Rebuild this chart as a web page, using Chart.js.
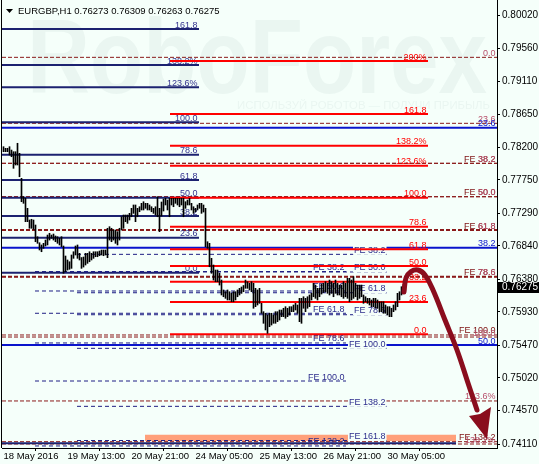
<!DOCTYPE html>
<html><head><meta charset="utf-8">
<script src="https://cdn.jsdelivr.net/npm/chart.js@4/dist/chart.umd.min.js"></script>
<style>html,body{margin:0;padding:0;background:#F5FFFA;}canvas{display:block;}</style>
</head><body>
<canvas id="c" width="539" height="464"></canvas>
<script>
// ---------------- data ----------------
const symbol = 'EURGBP,H1';
const lastQuote = [0.76273, 0.76309, 0.76263, 0.76275]; // O H L C of last bar
const xTickIndex = [0, 32, 64, 96, 128, 160, 192];
const xTickLabels = ['18 May 2016','19 May 13:00','20 May 21:00','24 May 05:00','25 May 13:00','26 May 21:00','30 May 05:00'];
const yTickValues = [0.80020,0.79560,0.79110,0.78650,0.78200,0.77750,0.77290,0.76840,0.76380,0.75930,0.75470,0.75020,0.74570,0.74110];

const barHigh = [
0.78206,0.78184,0.78184,0.78206,0.78160,0.78137,0.78137,0.78253,0.78115,0.77770,
0.77517,0.77495,0.77357,0.77196,0.77206,0.77196,0.77127,0.76966,0.76883,0.76852,
0.76875,0.76920,0.76989,0.77013,0.76989,0.77003,0.76976,0.76966,0.76944,0.76966,
0.76838,0.76700,0.76645,0.76621,0.76714,0.76759,0.76838,0.76852,0.76737,0.76679,
0.76686,0.76737,0.76737,0.76759,0.76737,0.76759,0.76759,0.76759,0.76769,0.76783,
0.76783,0.76783,0.77082,0.77104,0.77082,0.77058,0.77058,0.77035,0.77082,0.77241,
0.77265,0.77265,0.77265,0.77288,0.77357,0.77403,0.77403,0.77357,0.77379,0.77426,
0.77448,0.77426,0.77426,0.77403,0.77379,0.77357,0.77379,0.77517,0.77357,0.77444,
0.77485,0.77495,0.77471,0.77495,0.77495,0.77495,0.77495,0.77495,0.77495,0.77495,
0.77495,0.77448,0.77471,0.77495,0.77426,0.77379,0.77357,0.77403,0.77426,0.77426,
0.77403,0.77357,0.76897,0.76875,0.76668,0.76576,0.76507,0.76507,0.76462,0.76369,
0.76232,0.76208,0.76232,0.76208,0.76186,0.76208,0.76208,0.76232,0.76255,0.76273,
0.76294,0.76369,0.76346,0.76324,0.76346,0.76324,0.76255,0.76232,0.76255,0.76048,
0.75933,0.75911,0.75887,0.75911,0.75911,0.75887,0.75933,0.75933,0.75956,0.75956,
0.75980,0.76002,0.75980,0.76002,0.76002,0.76025,0.76048,0.76025,0.76117,0.76117,
0.76139,0.76117,0.76139,0.76163,0.76186,0.76324,0.76300,0.76255,0.76255,0.76314,
0.76324,0.76346,0.76324,0.76369,0.76346,0.76324,0.76369,0.76324,0.76300,0.76300,
0.76346,0.76324,0.76393,0.76393,0.76369,0.76415,0.76324,0.76300,0.76300,0.76300,
0.76163,0.76139,0.76117,0.76117,0.76094,0.76117,0.76117,0.76094,0.76070,0.76070,
0.76070,0.76025,0.76002,0.76002,0.75980,0.76025,0.76070,0.76186,0.76208,0.76277,
0.76309];
const barLow = [
0.78137,0.78137,0.78137,0.78091,0.78068,0.77908,0.77954,0.77954,0.77792,0.77448,
0.77426,0.77173,0.77173,0.77082,0.77082,0.77068,0.76897,0.76875,0.76783,0.76759,
0.76806,0.76838,0.76852,0.76920,0.76944,0.76920,0.76897,0.76875,0.76852,0.76828,
0.76462,0.76484,0.76507,0.76517,0.76530,0.76668,0.76714,0.76668,0.76645,0.76530,
0.76548,0.76576,0.76599,0.76621,0.76645,0.76668,0.76690,0.76690,0.76704,0.76714,
0.76704,0.76714,0.76677,0.76920,0.76897,0.76920,0.76875,0.76852,0.76920,0.77058,
0.77082,0.77173,0.77150,0.77196,0.77241,0.77288,0.77173,0.77241,0.77310,0.77334,
0.77334,0.77357,0.77334,0.77334,0.77310,0.77288,0.77265,0.77241,0.77035,0.77251,
0.77320,0.77403,0.77334,0.77241,0.77403,0.77379,0.77426,0.77403,0.77379,0.77403,
0.77241,0.77357,0.77403,0.77403,0.77334,0.77288,0.77310,0.77334,0.77357,0.77288,
0.77306,0.76828,0.76806,0.76552,0.76462,0.76369,0.76346,0.76346,0.76300,0.76163,
0.76139,0.76117,0.76094,0.76094,0.76070,0.76070,0.76094,0.76139,0.76163,0.76186,
0.76208,0.76255,0.76255,0.76232,0.76208,0.75980,0.76002,0.76025,0.76048,0.75911,
0.75773,0.75681,0.75635,0.75726,0.75749,0.75773,0.75773,0.75795,0.75818,0.75864,
0.75864,0.75842,0.75864,0.75887,0.75933,0.75933,0.75956,0.75911,0.75795,0.75773,
0.75980,0.75933,0.75980,0.76002,0.76094,0.76139,0.76117,0.76094,0.76139,0.76176,
0.76197,0.76208,0.76186,0.76163,0.76186,0.76139,0.76186,0.76163,0.76163,0.76139,
0.76117,0.76139,0.76117,0.76070,0.76094,0.76117,0.76139,0.76094,0.76117,0.76139,
0.76048,0.76070,0.76048,0.76025,0.76002,0.76002,0.75980,0.75980,0.75933,0.75933,
0.75911,0.75911,0.75887,0.75864,0.75864,0.75933,0.75956,0.76002,0.76094,0.76163,
0.76263];

// Fibonacci objects (level label, price)
const navyFibLabels = ['161.8','138.2%','123.6%','100.0','78.6','61.8','50.0','38.2','23.6','0.0'];
const navyFibPrices = [0.79827,0.79331,0.79024,0.78542,0.78096,0.77747,0.77503,0.77251,0.76952,0.76470];
const redFibLabels = ['200%','161.8','138.2%','123.6%','100.0','78.6','61.8','50.0','38.2','23.6','0.0'];
const redFibPrices = [0.79386,0.78656,0.78220,0.77944,0.77503,0.77104,0.76792,0.76562,0.76346,0.76066,0.75621];
const blueFibLabels = ['23.6','38.2','50.0'];
const blueFibPrices = [0.78467,0.76814,0.75474];
const brownExpLabels = ['FE 38.2','FE 50.0','FE 61.8','FE 78.6','FE 100.0','FE 138.2'];
const brownExpPrices = [0.77977,0.77517,0.77058,0.76415,0.75612,0.74142];
const brownRetLabels = ['0.0','23.6','38.2','50.0','61.8','78.6','100.0','123.6%','138.2%'];
const brownRetPrices = [0.79437,0.78528,0.77977,0.77517,0.77058,0.76415,0.75584,0.74703,0.74110];
const navyExpALabels = ['FE 38.2','FE 50.0','FE 61.8','FE 78.6','FE 100.0','FE 138.2'];
const navyExpAPrices = [0.76486,0.76218,0.75911,0.75502,0.74978,0.74083];
const navyExpBLabels = ['FE 38.2','FE 50.0','FE 61.8','FE 78.6','FE 100.0','FE 138.2','FE 161.8'];
const navyExpBPrices = [0.76723,0.76480,0.76194,0.75891,0.75428,0.74629,0.74158];
const bottomLinePrice = 0.74120;
const salmonZone = [0.74151, 0.74238];

// object anchors in bar-index units
const X_MIN = -0.75, X_MAX = 246.75;
const spanNavyFib = [X_MIN, 97.75];
const spanRedFib = [83.25, 212.25];
const spanFull = [X_MIN, X_MAX];
const spanExpA = [15.75, 171.25];
const spanExpB = [36.75, 191.75];
const spanSalmon = [70.75, 226.25];
const spanBottomLine = [X_MIN, 226.25];

const arrowPath = [
  {x:200.25,y:0.76204},{x:201.25,y:0.76397},{x:203.75,y:0.76486},{x:207.25,y:0.76507},
  {x:210.75,y:0.76438},{x:214.75,y:0.76232},{x:220.75,y:0.75818},{x:226.75,y:0.75405},
  {x:232.25,y:0.74950},{x:236.75,y:0.74578}];
const arrowHead = [{x:232.75,y:0.74496},{x:241.75,y:0.74179},{x:243.75,y:0.74620},{x:238.25,y:0.74523}];

// ---------------- styles ----------------
const BG = '#F5FFFA';
const FONT = 'Arial, "Liberation Sans", sans-serif';
const NAVY = '#1c2270', NAVY_TXT = '#35358f';
const RED = '#ff0000';
const BLUE = '#0a14cc';
const BROWN = '#8b1a1a', BROWN_TXT = '#7d1010', PINK_TXT = '#b8506c';
const NAVY_DASH = '#1e1e84', NAVY_DASH_TXT = '#2d2d8c';
const ARROW = '#8a0d1d';
const WATERMARK = 'rgba(160,180,178,0.12)';

function levelDatasets(prices, labels, span, st) {
  return prices.map((p, k) => ({
    type: 'line',
    data: [{x: span[0], y: p}, {x: span[1], y: p}],
    borderColor: st.color,
    borderWidth: st.widths ? st.widths[k] : st.width,
    borderDash: st.dash || [],
    pointRadius: 0, fill: false, order: st.order,
    lvlText: labels ? labels[k] : null, lvlColor: st.text, lvlBg: !!st.bg
  }));
}

const datasets = [
  { type:'line', data:[{x:spanSalmon[0],y:salmonZone[1]},{x:spanSalmon[1],y:salmonZone[1]}],
    borderWidth:0, pointRadius:0, backgroundColor:'#ffa07a', fill:{value:salmonZone[0]}, order:100 },
  ...levelDatasets(brownExpPrices, brownExpLabels, spanFull, {color:BROWN, width:1, dash:[4,2], text:BROWN_TXT, order:95}),
  ...levelDatasets(brownRetPrices, brownRetLabels, spanFull, {color:BROWN, widths:[1,1,1,1,2,2,1,1,1], dash:[4,2], text:PINK_TXT, order:90}),
  ...levelDatasets(blueFibPrices, blueFibLabels, spanFull, {color:BLUE, width:2, text:BLUE, order:80}),
  ...levelDatasets(navyFibPrices, navyFibLabels, spanNavyFib, {color:NAVY, width:2, text:NAVY_TXT, order:70}),
  ...levelDatasets([bottomLinePrice], null, spanBottomLine, {color:NAVY, width:2, order:65}),
  ...levelDatasets(navyExpAPrices, navyExpALabels, spanExpA, {color:NAVY_DASH, width:1, dash:[4,3], text:NAVY_DASH_TXT, order:60}),
  ...levelDatasets(navyExpBPrices, navyExpBLabels, spanExpB, {color:NAVY_DASH, width:1, dash:[4,3], text:NAVY_DASH_TXT, bg:true, order:55}),
  ...levelDatasets(redFibPrices, redFibLabels, spanRedFib, {color:RED, width:2, text:RED, order:40}),
  { type:'bar', data: barLow.map((lo, i) => ({x:i, y:[lo, barHigh[i]]})),
    backgroundColor:'#000', borderWidth:0, barThickness:1, order:30 },
  { type:'line', data: arrowPath, borderColor:ARROW, borderWidth:5, tension:0.4,
    borderCapStyle:'round', borderJoinStyle:'round', pointRadius:0, fill:false, order:10 }
];

// ---------------- plugins ----------------
const levelLabels = {
  id: 'levelLabels',
  afterDatasetDraw(chart, args) {
    const ds = chart.data.datasets[args.index];
    if (!ds.lvlText) return;
    const xs = chart.scales.x, ys = chart.scales.y, ctx = chart.ctx;
    const x = Math.min(xs.getPixelForValue(ds.data[1].x), chart.chartArea.right) - 1.5;
    const y = ys.getPixelForValue(ds.data[0].y) - 1.5;
    ctx.save();
    ctx.font = '9px ' + FONT;
    ctx.textAlign = 'right'; ctx.textBaseline = 'alphabetic';
    if (ds.lvlBg) {
      const w = ctx.measureText(ds.lvlText).width;
      ctx.fillStyle = BG; ctx.fillRect(x - w - 1, y - 8, w + 2, 10);
    }
    ctx.fillStyle = ds.lvlColor;
    ctx.fillText(ds.lvlText, x, y);
    ctx.restore();
  }
};

const decor = {
  id: 'decor',
  beforeDraw(chart) {
    const ctx = chart.ctx;
    ctx.save(); ctx.fillStyle = BG; ctx.fillRect(0, 0, chart.width, chart.height); ctx.restore();
  },
  beforeDatasetsDraw(chart) {
    const ctx = chart.ctx;
    ctx.save();
    ctx.fillStyle = WATERMARK;
    ctx.font = 'bold 106px ' + FONT;
    const t = 'RoboForex';
    const w = ctx.measureText(t).width;
    ctx.translate(27, 93); ctx.scale(460 / w, 1);
    ctx.fillText(t, 0, 0);
    ctx.restore();
    ctx.save();
    ctx.fillStyle = WATERMARK;
    ctx.font = '10px ' + FONT;
    const s = 'ИСПОЛЬЗУЙ РОБОТОВ — ПОЛУЧИ ПРИБЫЛЬ';
    const ws = ctx.measureText(s).width;
    ctx.translate(237, 109); ctx.scale(253 / ws, 1);
    ctx.fillText(s, 0, 0);
    ctx.restore();
  },
  afterDatasetsDraw(chart) {
    const ctx = chart.ctx, xs = chart.scales.x, ys = chart.scales.y;
    ctx.save();
    ctx.fillStyle = ARROW;
    ctx.beginPath();
    arrowHead.forEach((p, k) => {
      const px = xs.getPixelForValue(p.x), py = ys.getPixelForValue(p.y);
      if (k === 0) ctx.moveTo(px, py); else ctx.lineTo(px, py);
    });
    ctx.closePath(); ctx.fill();
    ctx.restore();
  },
  afterDraw(chart) {
    const ctx = chart.ctx, a = chart.chartArea, ys = chart.scales.y;
    ctx.save();
    ctx.strokeStyle = '#000'; ctx.lineWidth = 1;
    ctx.beginPath(); ctx.moveTo(1.5, 0); ctx.lineTo(1.5, a.bottom); ctx.stroke();
    ctx.fillStyle = '#000';
    ctx.beginPath(); ctx.moveTo(6, 9); ctx.lineTo(13, 9); ctx.lineTo(9.5, 13); ctx.closePath(); ctx.fill();
    ctx.font = '9.5px ' + FONT; ctx.textBaseline = 'alphabetic'; ctx.textAlign = 'left';
    ctx.fillText(symbol + ' ' + lastQuote.map(v => v.toFixed(5)).join(' '), 18, 14);
    const cy = ys.getPixelForValue(lastQuote[3]);
    ctx.fillStyle = '#000';
    ctx.fillRect(a.right, Math.round(cy) - 5, chart.width - a.right, 11);
    ctx.fillStyle = '#fff'; ctx.font = '10px ' + FONT; ctx.textBaseline = 'middle';
    ctx.fillText(lastQuote[3].toFixed(5), 502, Math.round(cy) + 0.5);
    ctx.restore();
  }
};

new Chart(document.getElementById('c'), {
  type: 'line',
  data: { datasets },
  options: {
    responsive: false, animation: false, devicePixelRatio: 1, events: [],
    layout: { padding: { left: 2, right: 0, top: 0, bottom: 0 } },
    plugins: { legend: { display: false }, tooltip: { enabled: false } },
    scales: {
      x: {
        type: 'linear', min: X_MIN, max: X_MAX, offset: false, position: 'bottom',
        afterBuildTicks: s => { s.ticks = xTickIndex.map(v => ({ value: v })); },
        afterFit: s => { s.height = 16; s.paddingLeft = 0; s.paddingRight = 0; },
        ticks: { autoSkip: false, maxRotation: 0, minRotation: 0, align: 'start', padding: 0,
                 color: '#000', font: { family: FONT, size: 9.5 },
                 callback: (v, i) => xTickLabels[i] },
        grid: { display: true, drawOnChartArea: false, drawTicks: true, tickLength: 3, color: '#000' },
        border: { display: true, color: '#000', width: 1 }
      },
      y: {
        type: 'linear', position: 'right', min: 0.74055, max: 0.80227,
        afterBuildTicks: s => { s.ticks = yTickValues.map(v => ({ value: v })); },
        afterFit: s => { s.width = 42; s.paddingTop = 0; s.paddingBottom = 0; },
        ticks: { padding: 2, color: '#000', font: { family: FONT, size: 10 },
                 callback: v => Number(v).toFixed(5) },
        grid: { display: true, drawOnChartArea: false, drawTicks: true, tickLength: 3, color: '#000' },
        border: { display: true, color: '#000', width: 1 }
      }
    }
  },
  plugins: [levelLabels, decor]
});
</script>
</body></html>
